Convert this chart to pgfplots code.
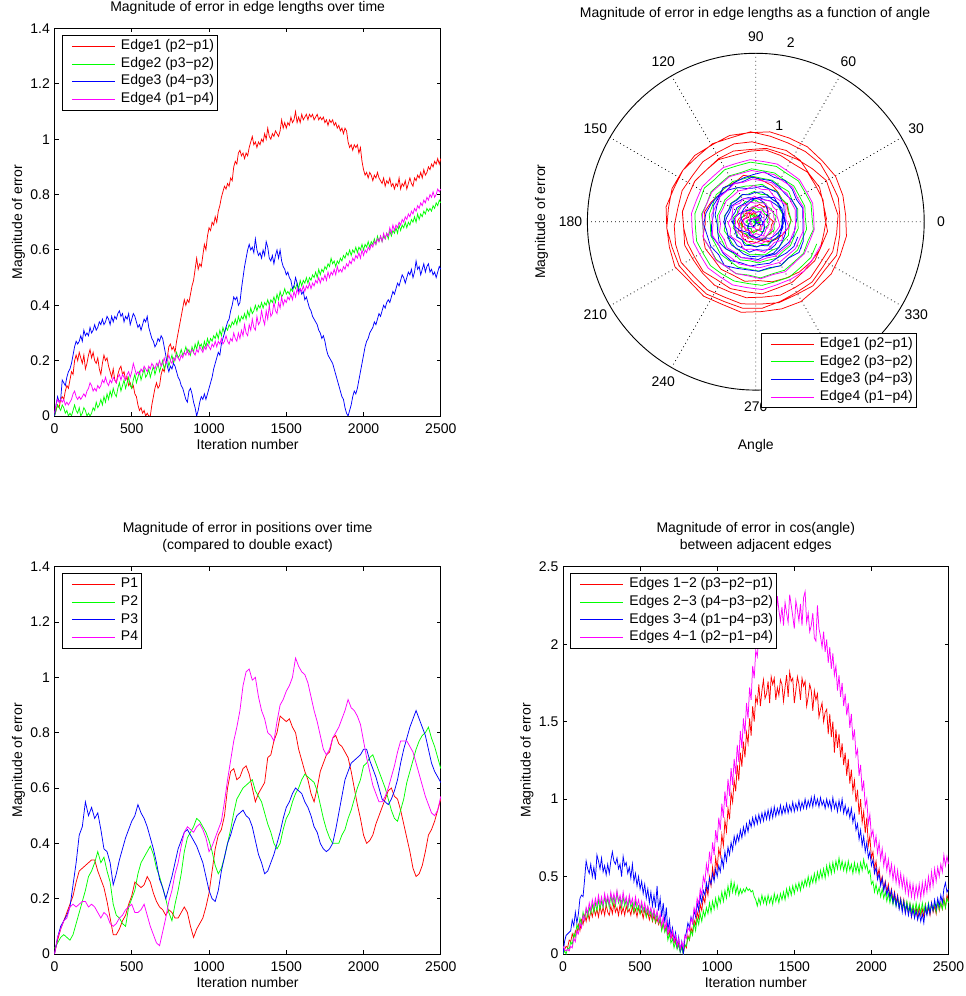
\documentclass[border=0pt]{standalone}
\usepackage{fontspec}
\setmainfont{Liberation Sans}
\usepackage{pgfplots}
\usepackage{pgfplotstable}
\pgfplotsset{compat=1.18}
\usepgfplotslibrary{polar}

\definecolor{mred}{rgb}{1,0,0}
\definecolor{mgreen}{rgb}{0,1,0}
\definecolor{mblue}{rgb}{0,0,1}
\definecolor{mmag}{rgb}{1,0,1}

\newcommand{\fs}{\fontsize{14}{16.7}\selectfont}

% Edge length errors: t = iteration, th = rotation angle (deg) at that iteration
\pgfplotstableread{
t th e1 e2 e3 e4
0 0 0.00 0.00 0.00 0.01
10 12.88 0.02 0.02 0.04 0.04
20 25.76 0.04 0.04 0.07 0.06
30 38.64 0.03 0.03 0.05 0.05
40 51.52 0.06 0.02 0.06 0.06
50 64.4 0.07 0.04 0.13 0.05
60 77.28 0.06 0.03 0.12 0.06
70 90.16 0.09 0.01 0.11 0.04
80 103.04 0.11 0.02 0.14 0.05
90 115.92 0.10 0.00 0.16 0.04
100 128.8 0.13 0.01 0.17 0.05
110 141.68 0.16 0.00 0.19 0.06
120 154.56 0.15 0.02 0.22 0.08
130 167.44 0.20 0.04 0.25 0.09
140 180.32 0.22 0.02 0.27 0.07
150 193.2 0.20 0.01 0.26 0.06
160 206.08 0.23 0.03 0.27 0.07
170 218.96 0.21 0.00 0.29 0.06
180 231.84 0.19 0.01 0.27 0.07
190 244.72 0.22 0.03 0.31 0.08
200 257.6 0.17 0.02 0.29 0.07
210 270.48 0.19 0.00 0.30 0.09
220 283.36 0.22 0.01 0.29 0.10
230 296.24 0.24 0.00 0.32 0.12
240 309.12 0.21 0.01 0.30 0.11
250 322 0.23 0.03 0.31 0.09
260 334.88 0.20 0.02 0.33 0.10
270 347.76 0.19 0.05 0.31 0.09
280 360.64 0.21 0.03 0.32 0.11
290 373.52 0.17 0.04 0.34 0.10
300 386.4 0.15 0.06 0.33 0.11
310 399.28 0.19 0.04 0.35 0.13
320 412.16 0.22 0.07 0.33 0.12
330 425.04 0.20 0.05 0.34 0.14
340 437.92 0.21 0.08 0.36 0.12
350 450.8 0.18 0.06 0.35 0.11
360 463.68 0.16 0.09 0.33 0.13
370 476.56 0.14 0.07 0.36 0.12
380 489.44 0.17 0.10 0.34 0.14
390 502.32 0.13 0.08 0.36 0.13
400 515.2 0.12 0.07 0.35 0.12
410 528.08 0.15 0.10 0.37 0.14
420 540.96 0.17 0.12 0.38 0.15
430 553.84 0.18 0.09 0.36 0.13
440 566.72 0.15 0.11 0.37 0.15
450 579.6 0.16 0.13 0.34 0.14
460 592.48 0.13 0.10 0.36 0.13
470 605.36 0.14 0.12 0.35 0.15
480 618.24 0.11 0.14 0.37 0.16
490 631.12 0.12 0.11 0.33 0.14
500 644 0.10 0.10 0.35 0.16
510 656.88 0.11 0.13 0.37 0.19
520 669.76 0.08 0.15 0.36 0.17
530 682.64 0.07 0.12 0.34 0.15
540 695.52 0.04 0.14 0.32 0.16
550 708.4 0.02 0.16 0.33 0.15
560 721.28 0.03 0.13 0.31 0.17
570 734.16 0.01 0.15 0.33 0.16
580 747.04 0.02 0.17 0.35 0.18
590 759.92 0.00 0.14 0.34 0.17
600 772.8 0.01 0.15 0.36 0.16
610 785.68 0.00 0.17 0.32 0.18
620 798.56 0.00 0.14 0.30 0.17
630 811.44 0.04 0.16 0.28 0.19
640 824.32 0.07 0.18 0.27 0.18
650 837.2 0.10 0.15 0.25 0.17
660 850.08 0.12 0.17 0.26 0.19
670 862.96 0.10 0.19 0.28 0.18
680 875.84 0.11 0.16 0.27 0.20
690 888.72 0.15 0.18 0.29 0.18
700 901.6 0.17 0.20 0.28 0.19
710 914.48 0.16 0.17 0.25 0.21
720 927.36 0.19 0.19 0.22 0.19
730 940.24 0.21 0.21 0.18 0.20
740 953.12 0.25 0.18 0.16 0.22
750 966 0.26 0.20 0.18 0.20
760 978.88 0.24 0.22 0.17 0.19
770 991.76 0.25 0.19 0.19 0.21
780 1004.64 0.23 0.21 0.18 0.20
790 1017.52 0.27 0.23 0.16 0.22
800 1030.4 0.30 0.21 0.14 0.21
810 1043.28 0.33 0.22 0.13 0.20
820 1056.16 0.36 0.24 0.11 0.22
830 1069.04 0.39 0.22 0.10 0.21
840 1081.92 0.42 0.23 0.08 0.23
850 1094.8 0.40 0.25 0.06 0.22
860 1107.68 0.42 0.23 0.05 0.24
870 1120.56 0.41 0.24 0.09 0.22
880 1133.44 0.44 0.22 0.10 0.23
890 1146.32 0.47 0.25 0.08 0.24
900 1159.2 0.49 0.23 0.05 0.23
910 1172.08 0.53 0.26 0.03 0.22
920 1184.96 0.57 0.24 0.00 0.24
930 1197.84 0.53 0.27 0.02 0.23
940 1210.72 0.55 0.25 0.05 0.25
950 1223.6 0.54 0.26 0.07 0.24
960 1236.48 0.58 0.24 0.06 0.23
970 1249.36 0.62 0.27 0.08 0.25
980 1262.24 0.60 0.25 0.06 0.24
990 1275.12 0.65 0.28 0.08 0.26
1000 1288 0.68 0.26 0.10 0.25
1010 1300.88 0.67 0.28 0.12 0.24
1020 1313.76 0.70 0.27 0.14 0.26
1030 1326.64 0.69 0.29 0.17 0.25
1040 1339.52 0.72 0.28 0.19 0.27
1050 1352.4 0.70 0.30 0.21 0.25
1060 1365.28 0.74 0.28 0.23 0.27
1070 1378.16 0.76 0.31 0.22 0.26
1080 1391.04 0.79 0.29 0.26 0.28
1090 1403.92 0.81 0.32 0.28 0.26
1100 1416.8 0.83 0.30 0.30 0.27
1110 1429.68 0.82 0.32 0.32 0.29
1120 1442.56 0.84 0.31 0.34 0.27
1130 1455.44 0.83 0.33 0.35 0.26
1140 1468.32 0.86 0.32 0.38 0.28
1150 1481.2 0.85 0.34 0.40 0.27
1160 1494.08 0.90 0.33 0.43 0.30
1170 1506.96 0.92 0.35 0.42 0.28
1180 1519.84 0.91 0.33 0.43 0.27
1190 1532.72 0.95 0.36 0.40 0.30
1200 1545.6 0.96 0.34 0.41 0.28
1210 1558.48 0.94 0.36 0.46 0.31
1220 1571.36 0.95 0.35 0.50 0.29
1230 1584.24 0.93 0.37 0.54 0.33
1240 1597.12 0.95 0.35 0.57 0.30
1250 1610 0.94 0.38 0.60 0.29
1260 1622.88 0.97 0.36 0.62 0.33
1270 1635.76 0.99 0.39 0.60 0.31
1280 1648.64 1.01 0.37 0.61 0.35
1290 1661.52 0.98 0.38 0.59 0.32
1300 1674.4 0.99 0.40 0.64 0.31
1310 1687.28 0.97 0.38 0.60 0.36
1320 1700.16 0.99 0.40 0.58 0.33
1330 1713.04 0.98 0.39 0.59 0.34
1340 1725.92 1.00 0.41 0.57 0.38
1350 1738.8 0.99 0.39 0.60 0.35
1360 1751.68 1.02 0.41 0.58 0.33
1370 1764.56 1.00 0.40 0.63 0.38
1380 1777.44 1.04 0.42 0.61 0.35
1390 1790.32 1.01 0.40 0.57 0.40
1400 1803.2 1.00 0.42 0.56 0.36
1410 1816.08 1.02 0.41 0.58 0.37
1420 1828.96 1.01 0.43 0.55 0.41
1430 1841.84 1.03 0.41 0.58 0.38
1440 1854.72 1.02 0.44 0.60 0.37
1450 1867.6 1.01 0.42 0.57 0.41
1460 1880.48 1.03 0.45 0.60 0.39
1470 1893.36 1.07 0.43 0.56 0.43
1480 1906.24 1.04 0.44 0.54 0.40
1490 1919.12 1.06 0.46 0.53 0.42
1500 1932 1.04 0.44 0.51 0.41
1510 1944.88 1.06 0.45 0.52 0.43
1520 1957.76 1.05 0.44 0.50 0.42
1530 1970.64 1.08 0.46 0.49 0.44
1540 1983.52 1.06 0.45 0.46 0.42
1550 1996.4 1.07 0.47 0.47 0.45
1560 2009.28 1.10 0.46 0.50 0.43
1570 2022.16 1.06 0.48 0.48 0.46
1580 2035.04 1.08 0.46 0.45 0.44
1590 2047.92 1.06 0.49 0.46 0.46
1600 2060.8 1.09 0.47 0.44 0.45
1610 2073.68 1.07 0.49 0.45 0.47
1620 2086.56 1.08 0.48 0.42 0.45
1630 2099.44 1.09 0.50 0.43 0.47
1640 2112.32 1.07 0.48 0.41 0.46
1650 2125.2 1.09 0.50 0.39 0.48
1660 2138.08 1.08 0.49 0.38 0.46
1670 2150.96 1.09 0.51 0.36 0.48
1680 2163.84 1.07 0.50 0.35 0.47
1690 2176.72 1.08 0.52 0.34 0.49
1700 2189.6 1.09 0.50 0.33 0.48
1710 2202.48 1.07 0.53 0.31 0.50
1720 2215.36 1.08 0.51 0.30 0.48
1730 2228.24 1.07 0.53 0.28 0.50
1740 2241.12 1.08 0.52 0.29 0.49
1750 2254 1.06 0.54 0.27 0.51
1760 2266.88 1.07 0.53 0.24 0.49
1770 2279.76 1.05 0.55 0.22 0.52
1780 2292.64 1.07 0.54 0.21 0.50
1790 2305.52 1.06 0.57 0.20 0.52
1800 2318.4 1.07 0.55 0.19 0.51
1810 2331.28 1.05 0.56 0.17 0.53
1820 2344.16 1.06 0.54 0.15 0.51
1830 2357.04 1.04 0.56 0.13 0.54
1840 2369.92 1.05 0.55 0.11 0.52
1850 2382.8 1.03 0.57 0.09 0.53
1860 2395.68 1.04 0.56 0.07 0.52
1870 2408.56 1.02 0.58 0.06 0.54
1880 2421.44 1.04 0.57 0.03 0.53
1890 2434.32 1.03 0.59 0.01 0.55
1900 2447.2 0.99 0.58 0.00 0.54
1910 2460.08 0.97 0.60 0.02 0.56
1920 2472.96 0.98 0.58 0.04 0.55
1930 2485.84 0.96 0.60 0.07 0.57
1940 2498.72 0.98 0.59 0.09 0.56
1950 2511.6 0.97 0.61 0.08 0.58
1960 2524.48 0.98 0.59 0.10 0.57
1970 2537.36 0.95 0.61 0.13 0.59
1980 2550.24 0.97 0.60 0.16 0.57
1990 2563.12 0.92 0.62 0.19 0.60
2000 2576 0.89 0.60 0.22 0.58
2010 2588.88 0.87 0.62 0.25 0.60
2020 2601.76 0.88 0.61 0.27 0.59
2030 2614.64 0.86 0.63 0.28 0.61
2040 2627.52 0.88 0.61 0.30 0.60
2050 2640.4 0.87 0.63 0.31 0.62
2060 2653.28 0.85 0.62 0.32 0.61
2070 2666.16 0.87 0.64 0.34 0.63
2080 2679.04 0.86 0.62 0.33 0.62
2090 2691.92 0.88 0.65 0.35 0.64
2100 2704.8 0.86 0.63 0.37 0.63
2110 2717.68 0.85 0.65 0.36 0.65
2120 2730.56 0.84 0.63 0.38 0.63
2130 2743.44 0.86 0.65 0.40 0.66
2140 2756.32 0.83 0.64 0.39 0.64
2150 2769.2 0.85 0.66 0.41 0.66
2160 2782.08 0.84 0.64 0.42 0.65
2170 2794.96 0.86 0.67 0.41 0.68
2180 2807.84 0.83 0.65 0.43 0.66
2190 2820.72 0.84 0.67 0.45 0.69
2200 2833.6 0.82 0.66 0.44 0.67
2210 2846.48 0.84 0.68 0.46 0.69
2220 2859.36 0.83 0.66 0.48 0.68
2230 2872.24 0.86 0.69 0.47 0.70
2240 2885.12 0.82 0.67 0.49 0.69
2250 2898 0.84 0.69 0.51 0.71
2260 2910.88 0.83 0.68 0.50 0.70
2270 2923.76 0.85 0.70 0.48 0.72
2280 2936.64 0.82 0.68 0.50 0.71
2290 2949.52 0.84 0.70 0.52 0.73
2300 2962.4 0.86 0.69 0.51 0.72
2310 2975.28 0.84 0.71 0.53 0.74
2320 2988.16 0.83 0.70 0.50 0.73
2330 3001.04 0.86 0.72 0.52 0.75
2340 3013.92 0.85 0.70 0.56 0.74
2350 3026.8 0.87 0.73 0.53 0.76
2360 3039.68 0.86 0.71 0.54 0.75
2370 3052.56 0.88 0.73 0.51 0.77
2380 3065.44 0.86 0.72 0.53 0.76
2390 3078.32 0.89 0.74 0.55 0.78
2400 3091.2 0.87 0.73 0.52 0.77
2410 3104.08 0.88 0.75 0.54 0.79
2420 3116.96 0.90 0.74 0.55 0.78
2430 3129.84 0.89 0.75 0.52 0.80
2440 3142.72 0.91 0.74 0.53 0.79
2450 3155.6 0.90 0.76 0.51 0.81
2460 3168.48 0.92 0.75 0.52 0.79
2470 3181.36 0.91 0.77 0.50 0.80
2480 3194.24 0.93 0.76 0.52 0.82
2490 3207.12 0.91 0.78 0.54 0.81
2500 3220 0.93 0.77 0.53 0.82
}\edgetab

% Position errors
\pgfplotstableread{
t p1 p2 p3 p4
0 0.00 0.02 0.00 0.00
20 0.05 0.04 0.06 0.06
40 0.09 0.06 0.10 0.09
60 0.12 0.07 0.12 0.12
80 0.15 0.06 0.14 0.13
100 0.18 0.05 0.17 0.17
120 0.21 0.07 0.25 0.18
140 0.26 0.11 0.33 0.17
160 0.30 0.15 0.43 0.18
180 0.31 0.19 0.46 0.19
200 0.32 0.23 0.55 0.19
220 0.33 0.28 0.50 0.17
240 0.34 0.30 0.53 0.18
260 0.34 0.33 0.49 0.17
280 0.30 0.37 0.51 0.15
300 0.27 0.33 0.45 0.13
320 0.24 0.35 0.38 0.15
340 0.19 0.30 0.37 0.14
360 0.13 0.26 0.33 0.11
380 0.07 0.18 0.25 0.10
400 0.07 0.14 0.29 0.11
420 0.09 0.13 0.34 0.13
440 0.12 0.11 0.38 0.14
460 0.14 0.10 0.42 0.16
480 0.18 0.17 0.45 0.17
500 0.21 0.20 0.48 0.18
520 0.26 0.23 0.50 0.15
540 0.25 0.29 0.54 0.15
560 0.24 0.33 0.51 0.16
580 0.25 0.35 0.49 0.18
600 0.28 0.37 0.46 0.14
620 0.26 0.39 0.42 0.10
640 0.22 0.36 0.38 0.07
660 0.19 0.31 0.33 0.04
680 0.17 0.28 0.27 0.03
700 0.16 0.24 0.24 0.08
720 0.14 0.20 0.20 0.13
740 0.16 0.15 0.24 0.19
760 0.15 0.12 0.28 0.23
780 0.13 0.18 0.33 0.29
800 0.13 0.23 0.38 0.33
820 0.15 0.29 0.41 0.39
840 0.17 0.37 0.44 0.44
860 0.15 0.42 0.45 0.46
880 0.10 0.44 0.43 0.45
900 0.06 0.46 0.41 0.44
920 0.09 0.49 0.39 0.46
940 0.11 0.48 0.36 0.47
960 0.13 0.46 0.33 0.45
980 0.17 0.44 0.28 0.42
1000 0.22 0.41 0.23 0.37
1020 0.30 0.37 0.20 0.39
1040 0.38 0.32 0.19 0.42
1060 0.43 0.29 0.23 0.45
1080 0.45 0.31 0.30 0.48
1100 0.50 0.35 0.35 0.55
1120 0.60 0.40 0.40 0.63
1140 0.66 0.45 0.43 0.70
1160 0.67 0.51 0.47 0.77
1180 0.63 0.56 0.50 0.82
1200 0.64 0.58 0.51 0.88
1220 0.67 0.60 0.52 0.97
1240 0.68 0.61 0.50 1.02
1260 0.65 0.62 0.49 1.03
1280 0.60 0.63 0.46 0.99
1300 0.55 0.59 0.41 1.00
1320 0.58 0.57 0.36 0.93
1340 0.60 0.55 0.33 0.88
1360 0.62 0.51 0.29 0.85
1380 0.71 0.47 0.30 0.80
1400 0.72 0.44 0.33 0.79
1420 0.77 0.40 0.36 0.77
1440 0.80 0.38 0.40 0.84
1460 0.86 0.40 0.44 0.90
1480 0.85 0.45 0.49 0.92
1500 0.84 0.49 0.53 0.95
1520 0.85 0.51 0.55 0.97
1540 0.82 0.55 0.58 1.00
1560 0.80 0.58 0.60 1.07
1580 0.74 0.60 0.59 1.04
1600 0.70 0.63 0.58 1.02
1620 0.66 0.65 0.55 1.01
1640 0.63 0.64 0.53 0.98
1660 0.58 0.63 0.50 0.93
1680 0.55 0.62 0.46 0.88
1700 0.60 0.59 0.44 0.84
1720 0.66 0.54 0.40 0.79
1740 0.69 0.49 0.38 0.74
1760 0.72 0.45 0.37 0.72
1780 0.73 0.42 0.38 0.74
1800 0.78 0.40 0.40 0.78
1820 0.79 0.40 0.45 0.80
1840 0.76 0.40 0.51 0.82
1860 0.75 0.43 0.57 0.85
1880 0.73 0.45 0.63 0.88
1900 0.71 0.49 0.66 0.92
1920 0.66 0.52 0.69 0.89
1940 0.60 0.56 0.70 0.88
1960 0.54 0.60 0.71 0.86
1980 0.49 0.63 0.72 0.83
2000 0.43 0.68 0.74 0.77
2020 0.40 0.69 0.74 0.71
2040 0.41 0.71 0.70 0.66
2060 0.43 0.72 0.67 0.61
2080 0.47 0.69 0.64 0.58
2100 0.50 0.66 0.60 0.55
2120 0.53 0.63 0.56 0.55
2140 0.56 0.60 0.55 0.57
2160 0.59 0.56 0.54 0.60
2180 0.60 0.52 0.56 0.64
2200 0.57 0.49 0.59 0.68
2220 0.56 0.48 0.63 0.73
2240 0.52 0.52 0.69 0.77
2260 0.47 0.56 0.74 0.77
2280 0.42 0.62 0.78 0.77
2300 0.37 0.66 0.82 0.75
2320 0.31 0.70 0.85 0.73
2340 0.28 0.74 0.88 0.69
2360 0.29 0.77 0.85 0.65
2380 0.32 0.79 0.82 0.61
2400 0.37 0.80 0.79 0.57
2420 0.43 0.82 0.74 0.54
2440 0.45 0.78 0.69 0.51
2460 0.48 0.75 0.66 0.50
2480 0.52 0.71 0.64 0.52
2500 0.56 0.67 0.62 0.57
}\postab

% cos(angle) errors
\pgfplotstableread{
t a12 a23 a34 a41
0 0.00 0.00 0.00 0.05
10 0.03 0.02 0.08 0.03
20 0.05 0.00 0.12 0.02
30 0.04 0.04 0.13 0.03
40 0.09 0.03 0.14 0.02
50 0.08 0.08 0.15 0.05
60 0.13 0.06 0.22 0.04
70 0.10 0.13 0.18 0.10
80 0.15 0.11 0.27 0.08
90 0.13 0.19 0.20 0.15
100 0.19 0.16 0.26 0.13
110 0.15 0.23 0.36 0.20
120 0.22 0.19 0.38 0.17
130 0.19 0.27 0.37 0.25
140 0.25 0.22 0.48 0.22
150 0.21 0.29 0.60 0.30
160 0.27 0.24 0.55 0.26
170 0.22 0.30 0.52 0.33
180 0.28 0.26 0.58 0.28
190 0.24 0.32 0.50 0.35
200 0.30 0.27 0.56 0.30
210 0.25 0.33 0.48 0.36
220 0.29 0.28 0.64 0.31
230 0.24 0.35 0.60 0.38
240 0.31 0.29 0.55 0.32
250 0.26 0.34 0.62 0.37
260 0.30 0.30 0.53 0.31
270 0.25 0.37 0.57 0.39
280 0.32 0.31 0.51 0.33
290 0.27 0.36 0.58 0.38
300 0.25 0.30 0.52 0.32
310 0.31 0.38 0.60 0.40
320 0.26 0.32 0.66 0.34
330 0.33 0.37 0.60 0.39
340 0.27 0.31 0.58 0.33
350 0.30 0.40 0.62 0.41
360 0.25 0.33 0.55 0.34
370 0.32 0.36 0.58 0.38
380 0.26 0.30 0.50 0.32
390 0.30 0.37 0.63 0.40
400 0.25 0.31 0.57 0.33
410 0.31 0.35 0.59 0.37
420 0.27 0.29 0.52 0.31
430 0.29 0.36 0.56 0.38
440 0.25 0.30 0.49 0.32
450 0.31 0.33 0.58 0.36
460 0.26 0.27 0.47 0.30
470 0.29 0.34 0.52 0.37
480 0.24 0.28 0.44 0.31
490 0.30 0.31 0.50 0.35
500 0.26 0.26 0.42 0.29
510 0.28 0.32 0.47 0.34
520 0.23 0.27 0.39 0.28
530 0.29 0.30 0.45 0.33
540 0.24 0.24 0.36 0.27
550 0.27 0.30 0.42 0.31
560 0.22 0.25 0.33 0.26
570 0.26 0.28 0.40 0.30
580 0.21 0.22 0.31 0.24
590 0.25 0.28 0.38 0.29
600 0.20 0.21 0.30 0.23
610 0.23 0.26 0.44 0.28
620 0.19 0.20 0.28 0.21
630 0.22 0.23 0.36 0.26
640 0.16 0.15 0.24 0.18
650 0.20 0.20 0.33 0.24
660 0.15 0.14 0.20 0.16
670 0.18 0.17 0.30 0.21
680 0.12 0.09 0.15 0.13
690 0.15 0.13 0.22 0.18
700 0.10 0.07 0.12 0.10
710 0.13 0.10 0.17 0.15
720 0.07 0.04 0.09 0.08
730 0.10 0.08 0.14 0.12
740 0.04 0.03 0.05 0.05
750 0.07 0.06 0.11 0.10
760 0.02 0.01 0.02 0.03
770 0.05 0.04 0.08 0.08
780 0.00 0.00 0.00 0.04
790 0.06 0.06 0.10 0.12
800 0.04 0.05 0.14 0.10
810 0.12 0.11 0.20 0.17
820 0.09 0.09 0.17 0.15
830 0.17 0.15 0.24 0.23
840 0.14 0.12 0.20 0.20
850 0.22 0.20 0.28 0.30
860 0.19 0.15 0.24 0.26
870 0.27 0.23 0.33 0.36
880 0.23 0.19 0.28 0.32
890 0.32 0.26 0.38 0.42
900 0.28 0.21 0.33 0.38
910 0.37 0.28 0.41 0.50
920 0.33 0.24 0.38 0.46
930 0.43 0.30 0.46 0.58
940 0.38 0.26 0.41 0.52
950 0.50 0.33 0.49 0.66
960 0.44 0.27 0.45 0.58
970 0.56 0.34 0.52 0.72
980 0.48 0.29 0.47 0.64
990 0.62 0.36 0.55 0.80
1000 0.55 0.30 0.50 0.72
1010 0.68 0.37 0.57 0.88
1020 0.63 0.33 0.53 0.80
1030 0.77 0.40 0.62 0.97
1040 0.70 0.34 0.56 0.88
1050 0.86 0.41 0.66 1.05
1060 0.79 0.36 0.60 0.95
1070 0.94 0.44 0.69 1.13
1080 0.87 0.38 0.64 1.02
1090 1.04 0.47 0.72 1.20
1100 0.98 0.40 0.67 1.09
1110 1.12 0.46 0.76 1.26
1120 1.05 0.39 0.71 1.16
1130 1.22 0.44 0.77 1.35
1140 1.12 0.38 0.73 1.24
1150 1.30 0.42 0.80 1.44
1160 1.21 0.39 0.75 1.33
1170 1.37 0.42 0.82 1.52
1180 1.27 0.40 0.77 1.42
1190 1.43 0.43 0.84 1.62
1200 1.36 0.41 0.79 1.52
1210 1.52 0.42 0.86 1.72
1220 1.41 0.40 0.82 1.64
1230 1.60 0.41 0.88 1.86
1240 1.50 0.37 0.83 1.78
1250 1.66 0.35 0.89 1.96
1260 1.62 0.31 0.84 1.92
1270 1.74 0.36 0.90 2.05
1280 1.60 0.32 0.85 2.08
1290 1.70 0.38 0.91 2.00
1300 1.77 0.33 0.86 2.12
1310 1.65 0.37 0.92 2.15
1320 1.68 0.32 0.87 2.05
1330 1.76 0.38 0.93 2.20
1340 1.62 0.33 0.87 2.08
1350 1.79 0.37 0.94 2.12
1360 1.74 0.32 0.88 2.26
1370 1.78 0.39 0.95 2.14
1380 1.64 0.34 0.89 2.10
1390 1.72 0.38 0.94 2.31
1400 1.67 0.33 0.90 2.22
1410 1.77 0.39 0.96 2.15
1420 1.74 0.35 0.90 2.24
1430 1.63 0.40 0.95 2.12
1440 1.72 0.35 0.91 2.27
1450 1.80 0.42 0.97 2.20
1460 1.66 0.37 0.91 2.14
1470 1.82 0.43 0.96 2.32
1480 1.76 0.38 0.92 2.25
1490 1.78 0.44 0.98 2.18
1500 1.62 0.39 0.92 2.10
1510 1.70 0.45 0.97 2.28
1520 1.79 0.41 0.93 2.22
1530 1.74 0.46 0.99 2.15
1540 1.64 0.41 0.93 2.26
1550 1.78 0.47 0.98 2.12
1560 1.73 0.43 0.94 2.30
1570 1.76 0.48 1.00 2.34
1580 1.60 0.44 0.94 2.14
1590 1.66 0.50 0.99 2.20
1600 1.74 0.44 0.95 2.08
1610 1.70 0.50 1.01 2.12
1620 1.57 0.46 0.95 2.20
1630 1.70 0.52 1.02 2.04
1640 1.64 0.46 0.96 2.02
1650 1.68 0.53 1.00 2.25
1660 1.53 0.48 0.95 2.10
1670 1.58 0.54 1.01 2.05
1680 1.62 0.49 0.96 1.98
1690 1.50 0.55 0.99 2.08
1700 1.56 0.49 0.94 1.95
1710 1.58 0.57 1.00 2.03
1720 1.42 0.51 0.95 1.88
1730 1.55 0.58 0.99 1.98
1740 1.40 0.52 0.93 1.84
1750 1.50 0.59 1.01 1.94
1760 1.30 0.53 0.94 1.80
1770 1.45 0.60 0.98 1.86
1780 1.33 0.55 0.92 1.70
1790 1.42 0.62 0.99 1.80
1800 1.27 0.55 0.93 1.66
1810 1.36 0.60 1.00 1.75
1820 1.22 0.54 0.91 1.60
1830 1.30 0.59 0.96 1.68
1840 1.15 0.53 0.90 1.54
1850 1.26 0.60 0.94 1.62
1860 1.10 0.54 0.88 1.46
1870 1.19 0.58 0.94 1.55
1880 1.05 0.52 0.85 1.38
1890 1.12 0.59 0.90 1.45
1900 0.98 0.53 0.80 1.28
1910 1.06 0.58 0.84 1.32
1920 0.90 0.52 0.74 1.15
1930 1.00 0.59 0.80 1.22
1940 0.85 0.54 0.70 1.05
1950 0.92 0.61 0.76 1.12
1960 0.78 0.55 0.66 0.95
1970 0.88 0.58 0.72 1.00
1980 0.70 0.52 0.62 0.84
1990 0.76 0.54 0.66 0.90
2000 0.62 0.45 0.57 0.76
2010 0.66 0.47 0.61 0.80
2020 0.55 0.40 0.52 0.70
2030 0.60 0.45 0.56 0.76
2040 0.50 0.39 0.48 0.65
2050 0.55 0.43 0.52 0.72
2060 0.46 0.37 0.44 0.61
2070 0.50 0.42 0.49 0.68
2080 0.42 0.36 0.41 0.57
2090 0.47 0.40 0.46 0.64
2100 0.40 0.34 0.38 0.54
2110 0.45 0.39 0.43 0.61
2120 0.37 0.33 0.36 0.51
2130 0.42 0.38 0.41 0.58
2140 0.34 0.32 0.33 0.48
2150 0.40 0.37 0.39 0.56
2160 0.33 0.31 0.31 0.46
2170 0.38 0.36 0.37 0.54
2180 0.30 0.30 0.29 0.44
2190 0.36 0.35 0.35 0.52
2200 0.29 0.29 0.27 0.43
2210 0.35 0.34 0.34 0.50
2220 0.27 0.28 0.26 0.40
2230 0.33 0.34 0.32 0.48
2240 0.26 0.27 0.25 0.38
2250 0.32 0.33 0.31 0.46
2260 0.24 0.27 0.24 0.37
2270 0.31 0.32 0.29 0.45
2280 0.25 0.26 0.23 0.36
2290 0.30 0.33 0.28 0.44
2300 0.23 0.27 0.22 0.37
2310 0.31 0.32 0.27 0.45
2320 0.25 0.26 0.21 0.36
2330 0.29 0.33 0.26 0.46
2340 0.24 0.27 0.20 0.38
2350 0.32 0.32 0.30 0.47
2360 0.26 0.26 0.25 0.40
2370 0.30 0.33 0.32 0.50
2380 0.25 0.27 0.26 0.42
2390 0.33 0.32 0.33 0.53
2400 0.27 0.28 0.28 0.44
2410 0.31 0.33 0.35 0.55
2420 0.26 0.27 0.29 0.47
2430 0.34 0.34 0.36 0.56
2440 0.28 0.29 0.31 0.50
2450 0.33 0.33 0.38 0.58
2460 0.29 0.29 0.33 0.53
2470 0.36 0.35 0.42 0.64
2480 0.30 0.30 0.46 0.57
2490 0.38 0.36 0.40 0.63
2500 0.34 0.33 0.42 0.58
}\angtab

\pgfplotsset{
  mlegend/.style={draw=black, line width=0.9pt, fill=white, font=\fs,
    inner xsep=3.4pt, inner ysep=2.35pt, row sep=1pt, column sep=5.7pt,
    nodes={inner sep=0pt, text depth=}},
  ln/.style={line width=0.75pt},
  mlab/.style={
    scale only axis,
    xmin=0, xmax=2500, xtick={0,500,1000,1500,2000,2500},
    tick align=inside, major tick length=4pt,
    axis line style={line width=0.9pt},
    every tick/.style={black, line width=0.9pt},
    tick label style={font=\fs},
    /pgf/number format/assume math mode=true,
    /pgf/number format/1000 sep={},
    scaled ticks=false,
    xticklabel style={inner sep=0pt, yshift=-8pt},
    yticklabel style={inner sep=0pt, xshift=-4.5pt},
    label style={font=\fs},
    xlabel style={at={(axis description cs:0.5,-0.0877)}, anchor=base},
    ylabel style={at={(axis description cs:-0.0841,0.5)}, anchor=base},
    title style={font=\fs, at={(axis description cs:0.5,1)}, anchor=south, inner sep=0pt, yshift=8pt, align=center},
    legend style={at={(axis description cs:0.0186,0.983)}, anchor=north west, mlegend},
    legend cell align=left,
    legend image code/.code={\path (0pt,0pt); \draw[##1] (6pt,0pt) -- (49pt,0pt);},
    xlabel={Iteration number}, ylabel={Magnitude of error},
  },
}

\begin{document}
\begin{tikzpicture}
\useasboundingbox (0pt,0pt) rectangle (966pt,996pt);

% ---------- top left ----------
\begin{axis}[mlab, at={(54.5pt,580pt)}, anchor=south west,
  width=386.3pt, height=387.5pt,
  ymin=0, ymax=1.4, ytick={0,0.2,0.4,0.6,0.8,1,1.2,1.4},
  title={Magnitude of error in edge lengths over time}]
\addplot[mred, ln] table[x=t, y=e1] {\edgetab}; \addlegendentry{\strut Edge1 (p2−p1)}
\addplot[mgreen, ln] table[x=t, y=e2] {\edgetab}; \addlegendentry{\strut Edge2 (p3−p2)}
\addplot[mblue, ln] table[x=t, y=e3] {\edgetab}; \addlegendentry{\strut Edge3 (p4−p3)}
\addplot[mmag, ln] table[x=t, y=e4] {\edgetab}; \addlegendentry{\strut Edge4 (p1−p4)}
\end{axis}

% ---------- top right (polar) ----------
\begin{polaraxis}[
  scale only axis, width=336.8pt, height=336.8pt,
  at={(755.8pt,774.3pt)}, anchor=center,
  xmin=0, xmax=360, ymin=0, ymax=2,
  xtick={0,30,...,330}, xticklabels={},
  ytick={1}, yticklabels={},
  xmajorgrids, ymajorgrids,
  major grid style={black, line width=0.8pt, dash pattern=on 0.8pt off 3.2pt},
  axis y line=none,
  axis line style={line width=0.9pt},
  major tick length=0pt,
  clip=false,
  legend style={at={(axis description cs:0.9777,-0.0543)}, anchor=south east, mlegend},
  legend cell align=left,
  legend image code/.code={\path (0pt,0pt); \draw[#1] (6pt,0pt) -- (49pt,0pt);},
]
\addplot[mred, ln] table[x=th, y=e1] {\edgetab}; \addlegendentry{\strut Edge1 (p2−p1)}
\addplot[mgreen, ln] table[x=th, y=e2] {\edgetab}; \addlegendentry{\strut Edge2 (p3−p2)}
\addplot[mblue, ln] table[x=th, y=e3] {\edgetab}; \addlegendentry{\strut Edge3 (p4−p3)}
\addplot[mmag, ln] table[x=th, y=e4] {\edgetab}; \addlegendentry{\strut Edge4 (p1−p4)}
\node[font=\fs] at (axis cs:0,2.2) {0};
\node[font=\fs] at (axis cs:30,2.2) {30};
\node[font=\fs] at (axis cs:60,2.2) {60};
\node[font=\fs] at (axis cs:90,2.2) {90};
\node[font=\fs] at (axis cs:120,2.2) {120};
\node[font=\fs] at (axis cs:150,2.2) {150};
\node[font=\fs] at (axis cs:180,2.2) {180};
\node[font=\fs] at (axis cs:210,2.2) {210};
\node[font=\fs] at (axis cs:240,2.2) {240};
\node[font=\fs] at (axis cs:270,2.2) {270};
\node[font=\fs] at (axis cs:300,2.2) {300};
\node[font=\fs] at (axis cs:330,2.2) {330};
\node[font=\fs] at (axis cs:76.2,1.17) {1};
\node[font=\fs] at (axis cs:79,2.17) {2};
\end{polaraxis}
\node[font=\fs, anchor=south, inner sep=0pt] at (755pt,975.7pt) {Magnitude of error in edge lengths as a function of angle};
\node[font=\fs, rotate=90, anchor=base, inner sep=0pt] at (545pt,774.3pt) {Magnitude of error};
\node[font=\fs, anchor=base, inner sep=0pt] at (755.8pt,546pt) {Angle};

% ---------- bottom left ----------
\begin{axis}[mlab, at={(54.5pt,42pt)}, anchor=south west,
  width=386.3pt, height=387.3pt,
  ymin=0, ymax=1.4, ytick={0,0.2,0.4,0.6,0.8,1,1.2,1.4},
  title={Magnitude of error in positions over time\\(compared to double exact)}]
\addplot[mred, ln] table[x=t, y=p1] {\postab}; \addlegendentry{\strut P1}
\addplot[mgreen, ln] table[x=t, y=p2] {\postab}; \addlegendentry{\strut P2}
\addplot[mblue, ln] table[x=t, y=p3] {\postab}; \addlegendentry{\strut P3}
\addplot[mmag, ln] table[x=t, y=p4] {\postab}; \addlegendentry{\strut P4}
\end{axis}

% ---------- bottom right ----------
\begin{axis}[mlab, at={(563pt,42pt)}, anchor=south west,
  width=385.5pt, height=387.3pt,
  ymin=0, ymax=2.5, ytick={0,0.5,1,1.5,2,2.5},
  title={Magnitude of error in cos(angle)\\between adjacent edges}]
\addplot[mred, ln] table[x=t, y=a12] {\angtab}; \addlegendentry{\strut Edges 1−2 (p3−p2−p1)}
\addplot[mgreen, ln] table[x=t, y=a23] {\angtab}; \addlegendentry{\strut Edges 2−3 (p4−p3−p2)}
\addplot[mblue, ln] table[x=t, y=a34] {\angtab}; \addlegendentry{\strut Edges 3−4 (p1−p4−p3)}
\addplot[mmag, ln] table[x=t, y=a41] {\angtab}; \addlegendentry{\strut Edges 4−1 (p2−p1−p4)}
\end{axis}
\end{tikzpicture}
\end{document}
